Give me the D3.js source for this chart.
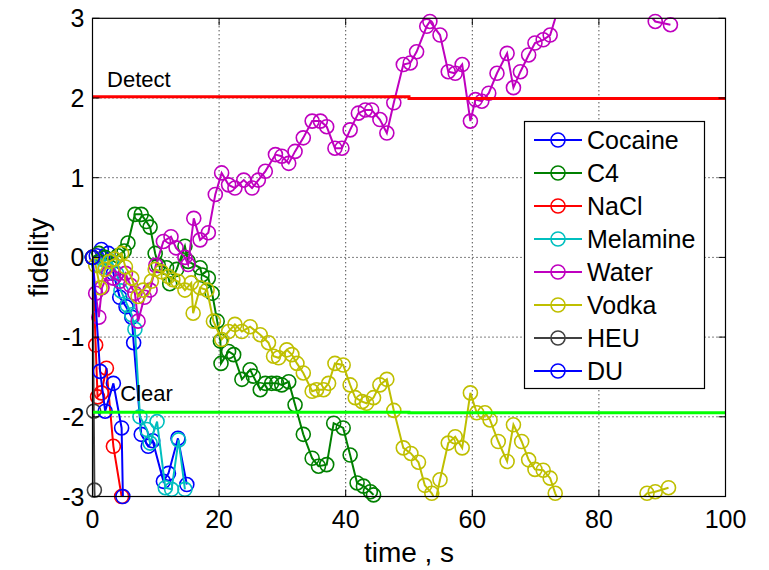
<!DOCTYPE html>
<html><head><meta charset="utf-8">
<script src="https://cdn.jsdelivr.net/npm/d3@7"></script>
<style>body{margin:0;background:#fff}svg{display:block}text{font-family:"Liberation Sans",Arial,sans-serif}</style>
</head><body>
<svg id="c" width="769" height="570"></svg>
<script>
// ---- data ----
const seriesNames = ["Cocaine","C4","NaCl","Melamine","Water","Vodka","HEU","DU"];
const seriesColors = ["#0000ff","#008000","#ff0000","#00bfbf","#bf00bf","#bfbf00","#404040","#0000ff"];

const cocaineT = [0,0.6,1.4,2.5,3.3,4.3,5.3,6.2,6.5,7.7,8.8,9.5,11.2,12.0,13.5,14.9];
const cocaineY = [0,0.02,0.1,0.05,-0.2,-0.5,-0.62,-0.75,-1.07,-2.22,-2.37,-2.3,-2.81,-2.71,-2.27,-2.85];

const c4T = [0,1.0,2.0,3.0,4.0,5.0,5.6,6.7,7.7,8.5,9.1,9.9,10.4,11.7,12.2,13.3,14.6,15.1,17.0,17.3,18.3,18.9,19.7,20.2,20.3,21.5,22.3,23.6,24.9,25.4,26.5,27.3,28.3,29.1,29.9,31.0,32.0,33.3,34.7,35.7,37.0,38.1,39.6,40.7,41.8,42.8,43.9,44.4];
const c4Y = [0,0.05,0.0,-0.05,0.02,0.08,0.18,0.54,0.54,0.45,0.38,0.05,-0.1,-0.13,-0.33,-0.15,0.14,-0.05,-0.13,-0.22,-0.26,-0.45,-0.8,-1.05,-1.33,-1.18,-1.22,-1.53,-1.41,-1.49,-1.66,-1.58,-1.58,-1.58,-1.6,-1.56,-1.85,-2.22,-2.52,-2.62,-2.6,-2.08,-2.14,-2.48,-2.83,-2.87,-2.94,-2.98];

const naclT = [0,0.5,0.8,1.4,2.2,3.3,4.6];
const naclY = [0,-1.1,-1.75,-1.7,-1.39,-2.37,-3.0];

const melamineT = [0,1.0,2.0,3.0,3.8,4.5,5.5,6.2,6.7,7.5,8.6,9.1,10.2,11.5,12.5,13.6,14.6];
const melamineY = [0,-0.1,-0.12,-0.05,-0.2,-0.42,-0.6,-0.72,-0.9,-2.0,-2.16,-2.33,-2.06,-2.89,-2.91,-2.29,-2.91];

const waterT = [0,0.5,1.0,1.5,2.5,3.3,4.3,5.2,6.0,6.7,7.2,8.2,9.1,10.0,11.2,12.4,13.2,14.6,15.1,16.0,17.0,18.3,19.4,20.4,21.5,22.5,23.9,25.2,26.2,27.3,28.9,29.9,31.0,32.0,33.3,34.7,36.0,37.0,38.3,39.4,40.7,42.0,43.1,44.1,45.4,46.5,47.6,49.1,50.2,51.2,52.8,53.3,54.9,56.2,57.3,58.4,59.7,60.5,61.5,62.6,63.9,65.5,66.5,67.6,68.9,69.9,71.2,72.3,73.5,76,80,84,87.5,88.9,91.3];
const waterY = [0,-0.45,-0.75,-0.38,-0.2,-0.26,-0.3,-0.2,-0.35,-0.45,-0.8,-0.5,-0.41,-0.1,0.2,0.26,0.12,0.0,-0.09,0.49,0.22,0.31,0.79,1.06,0.91,0.87,0.97,0.87,0.97,1.08,1.29,1.27,1.18,1.33,1.5,1.71,1.71,1.64,1.37,1.37,1.6,1.81,1.85,1.85,1.73,1.56,1.94,2.42,2.44,2.58,2.9,2.96,2.79,2.33,2.31,2.42,1.71,1.98,1.96,2.06,2.31,2.56,2.13,2.33,2.54,2.69,2.73,2.79,3.1,3.3,3.5,3.3,3.1,2.96,2.92];

const vodkaT = [0,0.5,1.2,2.0,2.7,3.5,4.6,5.2,6.2,7.2,8.0,9.3,9.9,10.9,12.0,12.7,13.5,14.6,15.6,15.9,17.0,18.1,19.1,20.4,21.5,22.5,23.6,24.9,26.5,27.8,28.6,29.4,30.7,31.5,32.3,33.3,34.7,35.4,36.5,37.3,38.3,39.6,40.7,41.5,42.6,43.3,44.4,45.4,46.5,47.6,49.1,50.3,51.5,52.5,53.6,54.2,54.9,56.2,57.3,58.4,59.7,60.7,62.0,62.8,64.1,65.5,66.5,67.8,68.9,69.9,71.2,72.3,73.1,75,80,84,86.5,87.6,88.9,91.0];
const vodkaY = [0,-0.1,-0.38,-0.15,-0.05,-0.02,0.05,-0.12,-0.26,-0.49,-0.41,-0.3,-0.15,-0.18,-0.24,-0.28,-0.3,-0.41,-0.32,-0.7,-0.38,-0.41,-0.8,-1.03,-0.93,-0.84,-0.93,-0.87,-0.97,-1.07,-1.24,-1.26,-1.16,-1.22,-1.33,-1.45,-1.68,-1.66,-1.66,-1.58,-1.33,-1.35,-1.6,-1.76,-1.81,-1.83,-1.76,-1.6,-1.53,-1.92,-2.39,-2.46,-2.57,-2.86,-2.96,-3.05,-2.79,-2.33,-2.25,-2.39,-1.7,-1.95,-1.95,-2.04,-2.31,-2.56,-2.1,-2.31,-2.54,-2.66,-2.67,-2.77,-2.96,-3.3,-3.5,-3.3,-3.05,-2.96,-2.94,-2.89];

const heuT = [0,0.2,0.3,0.4];
const heuY = [0,-1.93,-2.92,-3.1];

const duT = [0,1.2,2.0,3.3,4.6,4.8];
const duY = [0,-1.43,-1.93,-1.58,-2.14,-3.0];

const detectT = [0,50,50,100];
const detectY = [2.015,2.015,1.995,1.995];
const clearT = [0,50,50,100];
const clearY = [-1.943,-1.943,-1.95,-1.95];

const xTicks = [0,20,40,60,80,100];
const yTicks = [-3,-2,-1,0,1,2,3];

// ---- chart ----
const svg = d3.select("#c");
const L = 92.5, R = 725.5, T = 18.3, B = 496.5;
const x = d3.scaleLinear().domain([0,100]).range([L,R]);
const y = d3.scaleLinear().domain([-3,3]).range([B,T]);

svg.append("defs").append("clipPath").attr("id","clip")
  .append("rect").attr("x",L).attr("y",T).attr("width",R-L).attr("height",B-T);

// grid (dotted)
const grid = svg.append("g");
xTicks.slice(1,-1).forEach(v=>{
  grid.append("line").attr("x1",x(v)).attr("x2",x(v)).attr("y1",T).attr("y2",B)
    .attr("stroke","#000").attr("stroke-width",1).attr("stroke-dasharray","1,3");
});
yTicks.slice(1,-1).forEach(v=>{
  grid.append("line").attr("x1",L).attr("x2",R).attr("y1",y(v)).attr("y2",y(v))
    .attr("stroke","#000").attr("stroke-width",1).attr("stroke-dasharray","1,3");
});

// series
const allT = [cocaineT,c4T,naclT,melamineT,waterT,vodkaT,heuT,duT];
const allY = [cocaineY,c4Y,naclY,melamineY,waterY,vodkaY,heuY,duY];
const line = d3.line().x(d=>x(d[0])).y(d=>y(d[1]));
allT.forEach((ts,i)=>{
  const pts = ts.map((t,j)=>[t,allY[i][j]]);
  const g = svg.append("g");
  g.append("path").attr("d",line(pts)).attr("fill","none")
    .attr("stroke",seriesColors[i]).attr("stroke-width",2).attr("clip-path","url(#clip)");
  g.selectAll("circle").data(pts.filter(p=>p[1]>=-3.02&&p[1]<=3.02)).enter().append("circle")
    .attr("cx",d=>x(d[0])).attr("cy",d=>y(d[1])).attr("r",7)
    .attr("fill","none").attr("stroke",seriesColors[i]).attr("stroke-width",1.6);
});

// thresholds
svg.append("path").attr("d",line(detectT.map((t,j)=>[t,detectY[j]])))
  .attr("fill","none").attr("stroke","#ff0000").attr("stroke-width",3);
svg.append("path").attr("d",line(clearT.map((t,j)=>[t,clearY[j]])))
  .attr("fill","none").attr("stroke","#00ff00").attr("stroke-width",3);
svg.append("text").attr("x",x(2.3)).attr("y",y(2.14)).attr("font-size",22).text("Detect");
svg.append("text").attr("x",x(4.4)).attr("y",y(-1.8)).attr("font-size",22).text("Clear");

// axes box and ticks
svg.append("rect").attr("x",L).attr("y",T).attr("width",R-L).attr("height",B-T)
  .attr("fill","none").attr("stroke","#000").attr("stroke-width",1.2);
const tk = 7;
xTicks.forEach(v=>{
  svg.append("line").attr("x1",x(v)).attr("x2",x(v)).attr("y1",B).attr("y2",B-tk).attr("stroke","#000");
  svg.append("line").attr("x1",x(v)).attr("x2",x(v)).attr("y1",T).attr("y2",T+tk).attr("stroke","#000");
  svg.append("text").attr("x",x(v)).attr("y",B+31).attr("text-anchor","middle").attr("font-size",25).text(v);
});
yTicks.forEach(v=>{
  svg.append("line").attr("x1",L).attr("x2",L+tk).attr("y1",y(v)).attr("y2",y(v)).attr("stroke","#000");
  svg.append("line").attr("x1",R).attr("x2",R-tk).attr("y1",y(v)).attr("y2",y(v)).attr("stroke","#000");
  svg.append("text").attr("x",L-8).attr("y",y(v)+9).attr("text-anchor","end").attr("font-size",25).text(v);
});

svg.append("text").attr("x",(L+R)/2).attr("y",562).attr("text-anchor","middle").attr("font-size",28).text("time , s");
svg.append("text").attr("transform",`translate(48,${(T+B)/2}) rotate(-90)`).attr("text-anchor","middle").attr("font-size",28).text("fidelity");

// legend
const lg = svg.append("g");
lg.append("rect").attr("x",524.5).attr("y",121.5).attr("width",180).attr("height",267)
  .attr("fill","#fff").attr("stroke","#000").attr("stroke-width",1.2);
seriesNames.forEach((n,i)=>{
  const yy = 140 + i*33;
  lg.append("line").attr("x1",534).attr("x2",582).attr("y1",yy).attr("y2",yy)
    .attr("stroke",seriesColors[i]).attr("stroke-width",2);
  lg.append("circle").attr("cx",558).attr("cy",yy).attr("r",7).attr("fill","none")
    .attr("stroke",seriesColors[i]).attr("stroke-width",1.6);
  lg.append("text").attr("x",587).attr("y",yy+9).attr("font-size",25).text(n);
});
</script>
</body></html>
